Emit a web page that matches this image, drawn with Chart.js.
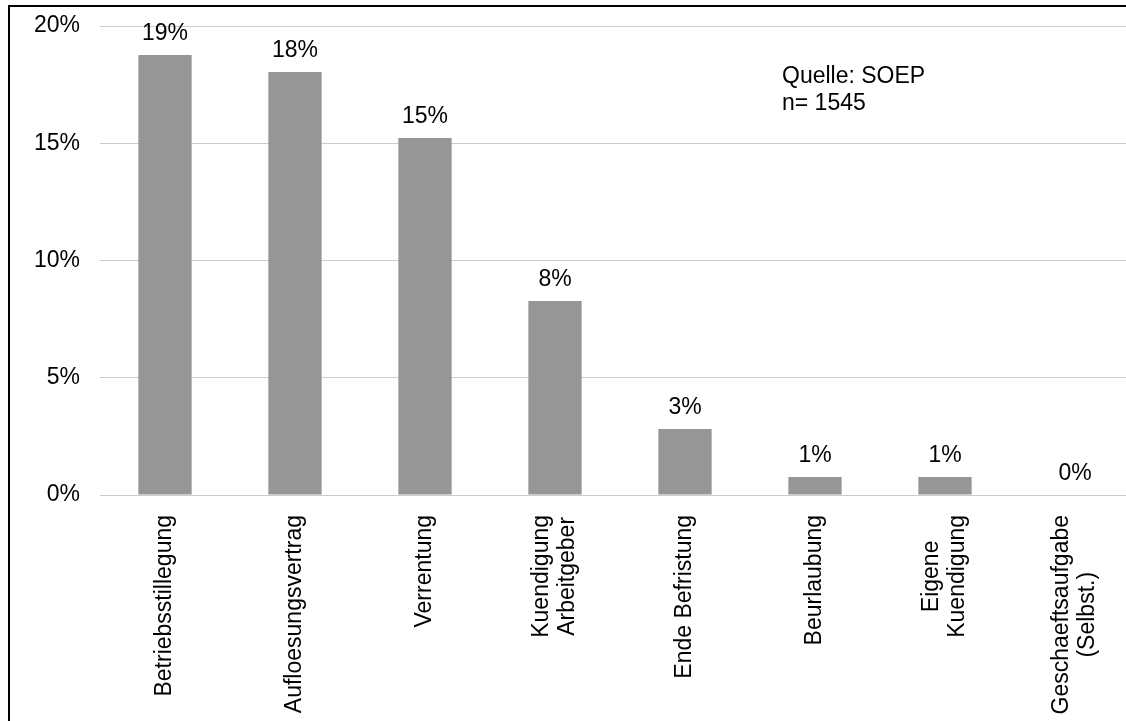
<!DOCTYPE html>
<html lang="de">
<head>
<meta charset="utf-8">
<title>Gründe für Arbeitsplatzverlust</title>
<script src="https://cdn.jsdelivr.net/npm/chart.js@4/dist/chart.umd.min.js"></script>
<style>
    html, body { margin: 0; padding: 0; background: #fff; overflow: hidden; }
    #frame {
        position: absolute; left: 8px; top: 5px; width: 2000px; height: 2000px;
        border-left: 2px solid #000; border-top: 2px solid #000;
    }
    #chart { position: absolute; left: 0; top: 0; }
</style>
</head>
<body>
<div id="frame"></div>
<canvas id="chart" width="1140" height="721"></canvas>
<script>
// Kategorien (mehrzeilige Beschriftungen als Arrays)
const categories = [
    ['Betriebsstillegung'],
    ['Aufloesungsvertrag'],
    ['Verrentung'],
    ['Kuendigung', 'Arbeitgeber'],
    ['Ende Befristung'],
    ['Beurlaubung'],
    ['Eigene', 'Kuendigung'],
    ['Geschaeftsaufgabe', '(Selbst.)']
];
// Anteile in Prozent
const shares = [18.76, 18.04, 15.22, 8.27, 2.81, 0.77, 0.77, 0.0];
const yTicks = [0, 5, 10, 15, 20];
const sourceNote = ['Quelle: SOEP', 'n= 1545'];

const FONT = '"Liberation Sans", Arial, sans-serif';
const FONT_SIZE = 23;

// Prozentwerte über den Balken
const valueLabels = {
    id: 'valueLabels',
    afterDatasetsDraw(chart) {
        const ctx = chart.ctx;
        const meta = chart.getDatasetMeta(0);
        ctx.save();
        ctx.font = FONT_SIZE + 'px ' + FONT;
        ctx.fillStyle = '#000';
        ctx.textAlign = 'center';
        ctx.textBaseline = 'alphabetic';
        meta.data.forEach((bar, i) => {
            ctx.fillText(Math.round(shares[i]) + '%', bar.x, bar.y - 15);
        });
        ctx.restore();
    }
};

// gedrehte, zentrierte Achsenbeschriftungen
const categoryLabels = {
    id: 'categoryLabels',
    afterDraw(chart) {
        const ctx = chart.ctx;
        const xScale = chart.scales.x;
        const top = chart.chartArea.bottom + 20;
        const lh = 26;
        ctx.save();
        ctx.font = FONT_SIZE + 'px ' + FONT;
        ctx.fillStyle = '#000';
        ctx.textAlign = 'center';
        ctx.textBaseline = 'middle';
        categories.forEach((lines, i) => {
            const x = xScale.getPixelForValue(i);
            const len = Math.max(...lines.map(l => ctx.measureText(l).width));
            ctx.save();
            ctx.translate(x, top + len / 2);
            ctx.rotate(-Math.PI / 2);
            lines.forEach((line, j) => {
                ctx.fillText(line, 0, (j - (lines.length - 1) / 2) * lh);
            });
            ctx.restore();
        });
        // Quellenangabe
        ctx.textAlign = 'left';
        ctx.textBaseline = 'alphabetic';
        ctx.fillText(sourceNote[0], 782, 83);
        ctx.fillText(sourceNote[1], 782, 110);
        ctx.restore();
    }
};

new Chart(document.getElementById('chart'), {
    type: 'bar',
    data: {
        labels: categories,
        datasets: [{
            data: shares,
            backgroundColor: '#969696',
            borderWidth: 0,
            categoryPercentage: 1.0,
            barPercentage: 0.41
        }]
    },
    options: {
        responsive: false,
        animation: false,
        layout: { padding: { top: 26, right: 0, bottom: 0, left: 0 } },
        plugins: {
            legend: { display: false },
            tooltip: { enabled: false }
        },
        scales: {
            x: {
                grid: { display: false },
                border: { display: false },
                ticks: { display: false },
                afterFit: (scale) => { scale.height = 721 - 495; }
            },
            y: {
                min: yTicks[0],
                max: yTicks[yTicks.length - 1],
                afterBuildTicks: (scale) => { scale.ticks = yTicks.map(v => ({ value: v })); },
                grid: { color: '#cccccc', lineWidth: 1, drawTicks: false },
                border: { display: false },
                ticks: {
                    color: '#000',
                    padding: 20,
                    font: { family: FONT, size: FONT_SIZE, lineHeight: 0.5 },
                    callback: (val) => val + '%'
                },
                afterFit: (scale) => {
                    scale.width = 100;
                    scale.paddingTop = 0;
                    scale.paddingBottom = 0;
                }
            }
        }
    },
    plugins: [valueLabels, categoryLabels]
});
</script>
</body>
</html>
